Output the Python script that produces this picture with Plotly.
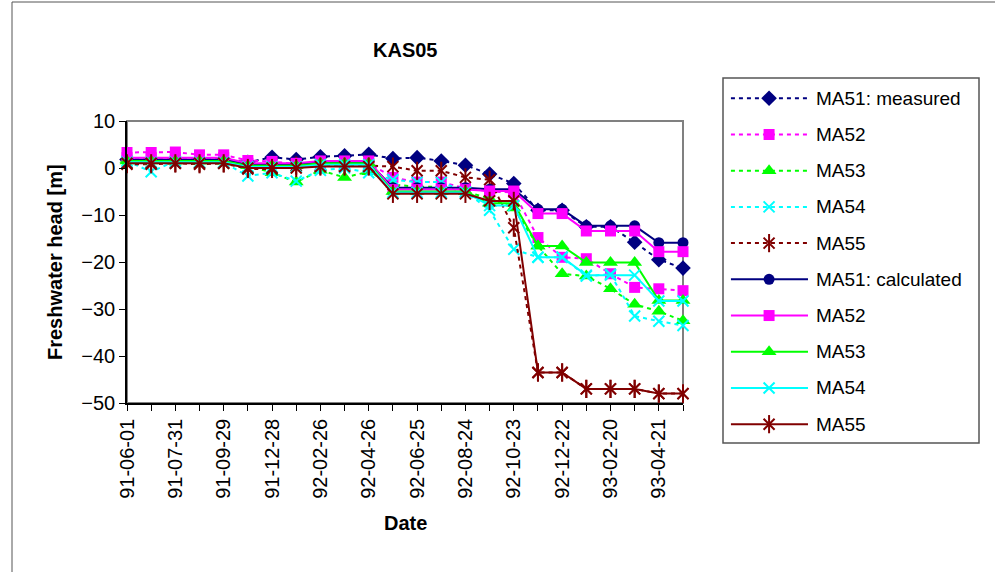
import plotly.graph_objects as go

# ---------------- data ----------------
tick_labels = ["91-06-01", "91-07-31", "91-09-29", "91-12-28", "92-02-26", "92-04-26",
               "92-06-25", "92-08-24", "92-10-23", "92-12-22", "93-02-20", "93-04-21"]
n_points = 24

ma51_meas = [1.8, 1.8, 1.8, 1.8, 1.8, 1.2, 2.3, 1.8, 2.4, 2.6, 2.9, 2.0, 2.2, 1.5, 0.6, -1.3, -3.3, -9.0, -9.0, -12.5, -12.5, -15.8, -19.5, -21.3]
ma52_meas = [3.3, 3.3, 3.4, 2.8, 2.8, 1.6, 1.4, 0.8, 0.6, 1.0, 1.0, -2.0, -3.0, -3.0, -4.3, -5.0, -5.2, -14.8, -19.0, -19.3, -22.5, -25.4, -25.7, -26.1]
ma53_meas = [1.8, 1.8, 1.5, 1.5, 1.5, 0.5, -1.0, -3.0, -0.5, -2.0, -0.8, -3.5, -4.0, -4.0, -5.0, -6.5, -8.5, -16.6, -22.5, -23.0, -25.7, -29.0, -30.5, -32.5]
ma54_meas = [1.5, -0.8, 1.5, 1.2, 1.2, -1.7, -1.0, -2.8, -0.5, 0.0, -1.0, -2.5, -3.0, -3.0, -5.0, -9.0, -17.3, -19.0, -19.0, -23.0, -22.6, -31.5, -32.6, -33.5]
ma55_meas = [0.8, 0.8, 1.0, 0.8, 1.0, -0.2, -0.2, 0.5, 0.5, 0.5, 0.5, 0.3, -0.6, -0.6, -2.0, -2.5, -12.7, -43.5, -43.5, -47.0, -47.0, -47.0, -48.0, -48.0]

ma51_calc = [1.8, 1.8, 1.8, 1.8, 1.8, 0.8, 0.8, 0.8, 1.2, 1.2, 1.2, -4.2, -4.2, -4.2, -4.2, -4.5, -4.5, -8.8, -8.8, -12.3, -12.3, -12.3, -15.9, -15.9]
ma52_calc = [2.2, 2.2, 2.2, 2.2, 2.2, 1.0, 1.0, 1.0, 1.5, 1.5, 1.5, -4.6, -4.6, -4.6, -4.6, -4.9, -4.9, -9.7, -9.7, -13.4, -13.4, -13.4, -17.8, -17.8]
ma53_calc = [1.5, 1.5, 1.5, 1.5, 1.5, 0.5, 0.5, 0.5, 1.0, 1.0, 1.0, -5.0, -5.0, -5.0, -5.0, -7.5, -7.5, -16.6, -16.6, -20.1, -20.1, -20.1, -28.2, -28.2]
ma54_calc = [1.2, 1.2, 1.2, 1.2, 1.2, 0.2, 0.2, 0.2, 0.7, 0.7, 0.7, -5.2, -5.2, -5.2, -5.2, -8.0, -8.0, -19.0, -19.0, -22.8, -22.8, -22.8, -28.3, -28.3]
ma55_calc = [1.0, 1.0, 1.0, 1.0, 1.0, 0.0, 0.0, 0.0, 0.3, 0.3, 0.3, -5.5, -5.5, -5.5, -5.5, -7.0, -7.0, -43.5, -43.5, -47.0, -47.0, -47.0, -48.0, -48.0]

series_names = ["MA51: measured", "MA52", "MA53", "MA54", "MA55",
                "MA51: calculated", "MA52", "MA53", "MA54", "MA55"]

# ---------------- styles ----------------
NAVY, MAG, GRN, CYN, BRN = "#000080", "#FF00FF", "#00FF00", "#00FFFF", "#800000"
styles = [
    dict(color=NAVY, symbol="diamond", size=12, dash="4px,4px"),
    dict(color=MAG, symbol="square", size=11, dash="4px,4px"),
    dict(color=GRN, symbol="triangle-up", size=13, dash="4px,4px"),
    dict(color=CYN, symbol="x", size=11, dash="4px,4px"),
    dict(color=BRN, symbol="star", size=12, dash="4px,4px"),
    dict(color=NAVY, symbol="circle", size=11, dash="solid"),
    dict(color=MAG, symbol="square", size=11, dash="solid"),
    dict(color=GRN, symbol="triangle-up", size=13, dash="solid"),
    dict(color=CYN, symbol="x", size=11, dash="solid"),
    dict(color=BRN, symbol="star", size=12, dash="solid"),
]
all_series = [ma51_meas, ma52_meas, ma53_meas, ma54_meas, ma55_meas,
              ma51_calc, ma52_calc, ma53_calc, ma54_calc, ma55_calc]

x_idx = list(range(n_points))

fig = go.Figure()


def add_markers(xs, ys, st, xa, ya):
    sym = st["symbol"]
    common = dict(x=xs, y=ys, mode="markers", xaxis=xa, yaxis=ya, showlegend=False,
                  cliponaxis=False, hoverinfo="skip")
    if sym == "x":
        fig.add_trace(go.Scatter(**common,
                                 marker=dict(symbol="x-thin-open", size=st["size"], color=st["color"],
                                             line=dict(color=st["color"], width=2))))
    elif sym == "star":
        fig.add_trace(go.Scatter(**common,
                                 marker=dict(symbol="x-thin-open", size=st["size"] - 1, color=st["color"],
                                             line=dict(color=st["color"], width=2))))
        fig.add_trace(go.Scatter(**common,
                                 marker=dict(symbol="line-ns-open", size=st["size"] + 1, color=st["color"],
                                             line=dict(color=st["color"], width=2))))
    else:
        fig.add_trace(go.Scatter(**common,
                                 marker=dict(symbol=sym, size=st["size"], color=st["color"],
                                             line=dict(width=0))))


for name, ys, st in zip(series_names, all_series, styles):
    fig.add_trace(go.Scatter(x=x_idx, y=ys, mode="lines", name=name, showlegend=False,
                             cliponaxis=False,
                             line=dict(color=st["color"], width=2, dash=st["dash"])))
    add_markers(x_idx, ys, st, "x", "y")

# ---------------- custom legend (second axes) ----------------
rows_span = 10.08
for i, (name, st) in enumerate(zip(series_names, styles)):
    r = i + 0.56
    fig.add_trace(go.Scatter(x=[0.031, 0.332], y=[r, r], mode="lines", xaxis="x2", yaxis="y2",
                             showlegend=False, hoverinfo="skip", cliponaxis=False,
                             line=dict(color=st["color"], width=2, dash=st["dash"])))
    add_markers([0.18], [r], st, "x2", "y2")
    fig.add_annotation(x=0.355, y=r, xref="x2", yref="y2", text=name, showarrow=False,
                       xanchor="left", yanchor="middle",
                       font=dict(family="Liberation Sans, Arial", size=19, color="black"))

# ---------------- layout ----------------
W, H = 995, 572
L, R, T, B = 127, 16, 78, 129
plot_w = W - L - R
plot_h = H - T - B
px_left, px_right, px_top, px_bot = 127, 683, 121, 403
leg_left, leg_right = 723, 979


def fx(px):
    return (px - L) / plot_w


def fy(py):
    return (H - B - py) / plot_h


axis_font = dict(family="Liberation Sans, Arial", size=20, color="black")

fig.update_layout(
    width=W, height=H,
    margin=dict(l=L, r=R, t=T, b=B, pad=0),
    paper_bgcolor="white", plot_bgcolor="white",
    showlegend=False,
    xaxis=dict(domain=[0, fx(px_right)], range=[0, n_points - 1],
               tickmode="array", tickvals=x_idx,
               ticktext=[tick_labels[i // 2] if i % 2 == 0 else "" for i in x_idx],
               tickangle=-90, ticks="outside", ticklen=6, tickwidth=1, tickcolor="black",
               showline=True, linecolor="black", linewidth=1.5, showgrid=False, zeroline=False,
               tickfont=axis_font, anchor="y"),
    yaxis=dict(domain=[fy(px_bot), fy(px_top)], range=[-50, 10], dtick=10, tick0=0,
               ticks="outside", ticklen=6, tickwidth=1, tickcolor="black",
               showline=True, linecolor="black", linewidth=1.5, showgrid=False, zeroline=False,
               tickfont=axis_font, anchor="x"),
    xaxis2=dict(domain=[fx(leg_left), fx(leg_right)], range=[0, 1], visible=False, anchor="y2"),
    yaxis2=dict(domain=[0, 1], range=[rows_span, 0], visible=False, anchor="x2"),
)

# plot area border (grey) and legend border
fig.add_shape(type="rect", xref="paper", yref="paper",
              x0=0, x1=fx(px_right), y0=fy(px_bot), y1=fy(px_top),
              line=dict(color="#808080", width=2), layer="below")
fig.add_shape(type="rect", xref="paper", yref="paper",
              x0=fx(leg_left), x1=fx(leg_right), y0=0, y1=1,
              line=dict(color="#555555", width=1.5), layer="below")
# chart area border (left and top edges visible)
fig.add_shape(type="line", xref="paper", yref="paper",
              x0=fx(12), x1=fx(12), y0=fy(2), y1=fy(575), line=dict(color="#555555", width=1))
fig.add_shape(type="line", xref="paper", yref="paper",
              x0=fx(12), x1=fx(1000), y0=fy(2), y1=fy(2), line=dict(color="#555555", width=1))

# titles
fig.add_annotation(x=fx((px_left + px_right) / 2), y=fy(50), xref="paper", yref="paper",
                   text="<b>KAS05</b>", showarrow=False, xanchor="center", yanchor="middle",
                   font=dict(family="Liberation Sans, Arial", size=20, color="black"))
fig.add_annotation(x=fx((px_left + px_right) / 2), y=fy(523), xref="paper", yref="paper",
                   text="<b>Date</b>", showarrow=False, xanchor="center", yanchor="middle",
                   font=dict(family="Liberation Sans, Arial", size=20, color="black"))
fig.add_annotation(x=fx(55), y=fy((px_top + px_bot) / 2), xref="paper", yref="paper",
                   text="<b>Freshwater head [m]</b>", showarrow=False, textangle=-90,
                   xanchor="center", yanchor="middle",
                   font=dict(family="Liberation Sans, Arial", size=20, color="black"))

fig.write_html("out.html")
